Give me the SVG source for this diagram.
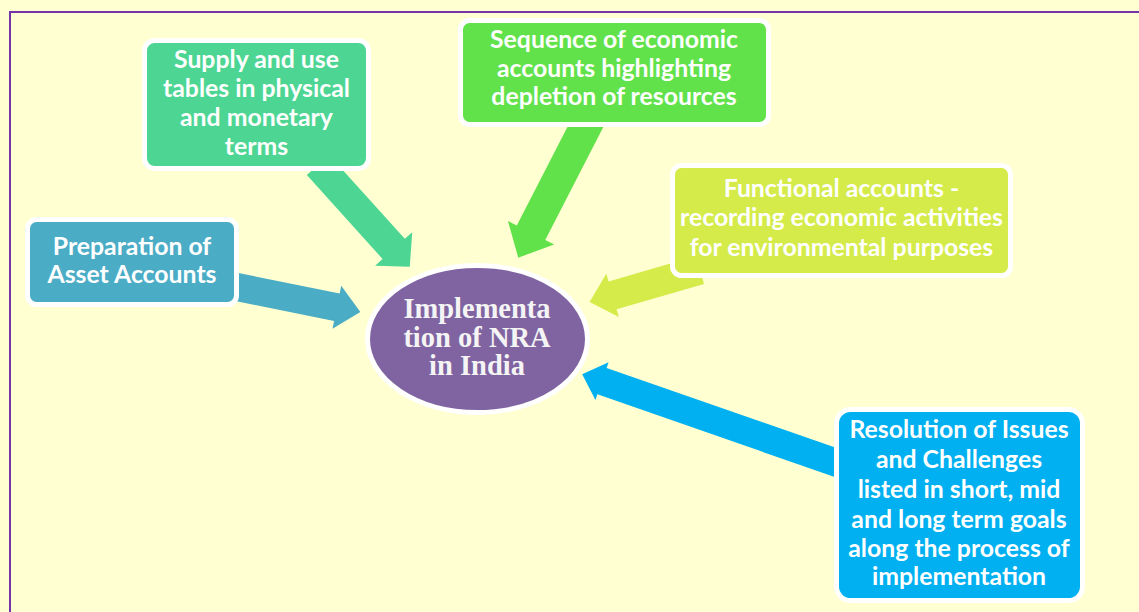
<svg xmlns="http://www.w3.org/2000/svg" width="1139" height="612" viewBox="0 0 1139 612">
<style>
.bg{fill:#FFFFD1}
.frame{fill:none;stroke:#7535A8;stroke-width:2}
.box{stroke:#FFFFFF;stroke-width:5}
.t{font-family:Lato,"Liberation Sans",sans-serif;font-weight:bold;font-size:24.8px;fill:#FFFFFF;text-anchor:middle}
.ct{font-family:"Liberation Serif",serif;font-weight:bold;font-size:28.5px;fill:#F4F4F4;text-anchor:middle}
</style>
<rect class="bg" x="0" y="0" width="1139" height="612"/>
<path class="frame" d="M10,612 L10,12 L1139,12"/>
<g id="connectors">
  <path fill="#4BACC6" transform="translate(232,286) rotate(11.48)" d="M0,-14 L107,-14 L107,-22 L131,0 L107,22 L107,14 L0,14 Z"/>
  <path fill="#4DD693" transform="translate(318,165) rotate(47.95)" d="M0,-15 L113,-15 L113,-25 L137,0 L113,25 L113,15 L0,15 Z"/>
  <path fill="#62E24A" transform="translate(590,118) rotate(117.2)" d="M0,-16 L129,-16 L129,-26 L157,0 L129,26 L129,16 L0,16 Z"/>
  <path fill="#D4EB4A" transform="translate(700,270) rotate(163.8)" d="M0,-14.5 L91,-14.5 L91,-22.5 L115,0 L91,22.5 L91,14.5 L0,14.5 Z"/>
  <path fill="#00B0F0" transform="translate(840,464) rotate(199.2)" d="M0,-14 L252,-14 L252,-20 L273,0 L252,20 L252,14 L0,14 Z"/>
</g>
<g id="node-prep">
  <rect class="box" fill="#4BACC6" x="27.5" y="219.5" width="209" height="85" rx="9"/>
  <text class="t" x="132" y="255">Preparation of</text>
  <text class="t" x="132" y="283">Asset Accounts</text>
</g>
<g id="node-supply">
  <rect class="box" fill="#4DD693" x="144.5" y="40.5" width="224" height="128" rx="10"/>
  <text class="t" x="256.5" y="68">Supply and use</text>
  <text class="t" x="256.5" y="97">tables in physical</text>
  <text class="t" x="256.5" y="126">and monetary</text>
  <text class="t" x="256.5" y="155">terms</text>
</g>
<g id="node-sequence">
  <rect class="box" fill="#62E24A" x="460.5" y="20.5" width="308" height="104" rx="9"/>
  <text class="t" x="614" y="48">Sequence of economic</text>
  <text class="t" x="614" y="77">accounts highlighting</text>
  <text class="t" x="614" y="105">depletion of resources</text>
</g>
<g id="node-functional">
  <rect class="box" fill="#D4EB4A" x="672.5" y="165.5" width="338" height="110" rx="9"/>
  <text class="t" x="841.5" y="197">Functional accounts -</text>
  <text class="t" x="841.5" y="226">recording economic activities</text>
  <text class="t" x="841.5" y="256">for environmental purposes</text>
</g>
<g id="node-resolution">
  <rect class="box" fill="#00B0F0" x="836.5" y="409.5" width="246" height="191" rx="14"/>
  <text class="t" x="959" y="438">Resolution of Issues</text>
  <text class="t" x="959" y="468">and Challenges</text>
  <text class="t" x="959" y="498">listed in short, mid</text>
  <text class="t" x="959" y="528">and long term goals</text>
  <text class="t" x="959" y="557">along the process of</text>
  <text class="t" x="959" y="585">implementation</text>
</g>
<g id="node-center">
  <ellipse class="box" fill="#8064A2" cx="477.5" cy="339" rx="110" ry="73.5"/>
  <text class="ct" x="477" y="318">Implementa</text>
  <text class="ct" x="477" y="347">tion of NRA</text>
  <text class="ct" x="477" y="375">in India</text>
</g>
</svg>
